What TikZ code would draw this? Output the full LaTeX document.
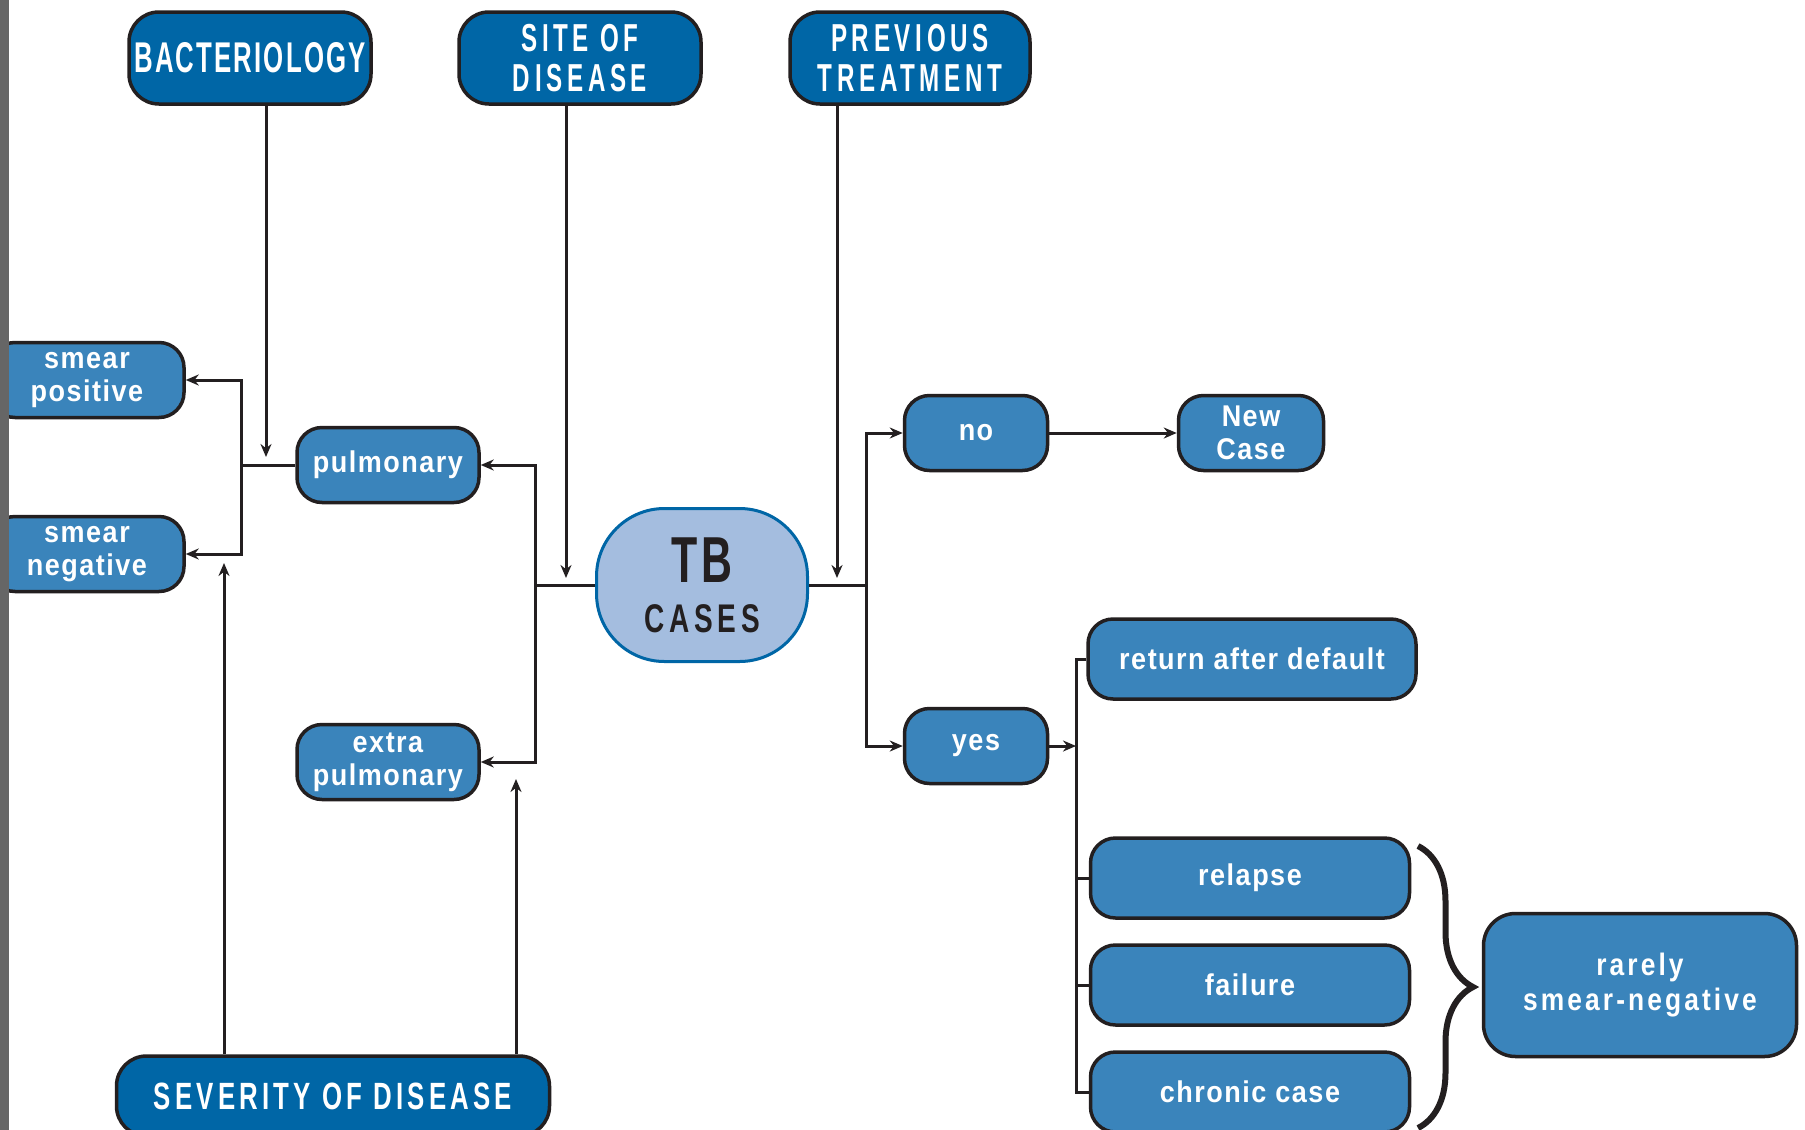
\documentclass[tikz,border=0pt]{standalone}
\usepackage{fontspec}
\usetikzlibrary{arrows.meta,decorations.pathreplacing}
\definecolor{ink}{HTML}{231F20}
\definecolor{dblue}{HTML}{0066A6}
\definecolor{mblue}{HTML}{3A84BB}
\definecolor{lblue}{HTML}{A4BDDF}
\definecolor{barg}{HTML}{666666}
\newfontfamily\tcapfont{Liberation Sans}[FakeStretch=0.62,LetterSpace=12]
\newfontfamily\bcapfont{Liberation Sans}[FakeStretch=0.6,LetterSpace=5]
\newfontfamily\sevfont{Liberation Sans}[FakeStretch=0.68,LetterSpace=11]
\newfontfamily\lowfont{Liberation Sans}[FakeStretch=0.9,LetterSpace=5]
\newfontfamily\lowsfont{Liberation Sans}[FakeStretch=0.85,LetterSpace=10]
\newfontfamily\tbbigfont{Liberation Sans}[FakeStretch=0.66,LetterSpace=6]
\newfontfamily\tbsmallfont{Liberation Sans}[FakeStretch=0.7,LetterSpace=12]
\begin{document}
\begin{tikzpicture}[x=1pt,y=-1pt,
  base/.style={rectangle,draw=ink,line width=3.5pt,align=center,inner sep=0pt,text=white},
  topbox/.style={base,fill=dblue,minimum width=242pt,minimum height=92pt,rounded corners=30pt,
    font=\tcapfont\bfseries\fontsize{39}{40}\selectfont},
  midbox/.style={base,fill=mblue,minimum width=182pt,minimum height=75pt,rounded corners=25pt,
    font=\lowfont\bfseries\fontsize{30}{33}\selectfont},
  tbbox/.style={rectangle,draw=dblue,line width=3pt,fill=lblue,text=ink,align=center,inner sep=0pt,
    minimum width=211pt,minimum height=153pt,rounded corners=68pt,font=\fontsize{40}{50}\selectfont},
  conn/.style={draw=ink,line width=3pt},
  arr/.style={conn,-{Stealth[length=13pt,width=11pt]}},
  bracestyle/.style={draw=ink,line width=6pt,decorate,decoration={brace,amplitude=55pt}}
]
\clip (0,0) rectangle (1805,1130);
\fill[white] (0,0) rectangle (1805,1130);

% nodes
\node[topbox,font=\bcapfont\bfseries\fontsize{43}{43}\selectfont] (bac) at (250,58) {BACTERIOLOGY};
\node[topbox] (site) at (580,58) {SITE OF\\DISEASE};
\node[topbox,minimum width=240pt] (prev) at (910,58) {PREVIOUS\\TREATMENT};

\node[midbox,minimum width=194pt] (sp) at (87,380) {smear\\positive};
\node[midbox,minimum width=194pt] (sn) at (87,554) {smear\\negative};
\node[midbox] (pul) at (388,465) {pulmonary};
\node[midbox] (xp) at (388,762) {extra\\pulmonary};

\node[tbbox] (tb) at (702,585) {{\tbbigfont\bfseries\fontsize{65}{60}\selectfont TB}\\{\tbsmallfont\bfseries\fontsize{40}{40}\selectfont CASES}};

\node[midbox,minimum width=143pt] (no) at (976,433) {no};
\node[midbox,minimum width=145pt] (new) at (1251,433) {New\\Case};
\node[midbox,minimum width=143pt] (yes) at (976,746) {yes};

\node[midbox,minimum width=328pt,minimum height=80pt] (ret) at (1252,659) {return after default};
\node[midbox,minimum width=319pt,minimum height=80pt] (rel) at (1250,878) {relapse};
\node[midbox,minimum width=319pt,minimum height=80pt] (fail) at (1250,985) {failure};
\node[midbox,minimum width=319pt,minimum height=80pt] (chr) at (1250,1092) {chronic case};

\node[midbox,minimum width=313pt,minimum height=143pt,rounded corners=32pt,
  font=\lowsfont\bfseries\fontsize{31}{35}\selectfont] (rare) at (1640,985) {rarely\\smear-negative};

\node[topbox,minimum width=433pt,minimum height=80pt,
  font=\sevfont\bfseries\fontsize{38}{38}\selectfont] (sev) at (333,1096) {SEVERITY OF DISEASE};

% coordinates
\coordinate (b1) at (266,457);
\coordinate (jl) at (241,465);
\coordinate (s1) at (224,563);
\coordinate (s2) at (516,779);
\coordinate (jt) at (535,585);
\coordinate (s3) at (566,578);
\coordinate (s4) at (837,578);
\coordinate (jr) at (866,585);
\coordinate (jy) at (1076,746);

% connectors left
\draw[arr] (b1 |- bac.south) -- (b1);
\draw[conn] (pul.west) -- (jl);
\draw[arr] (jl) |- (sp.east);
\draw[arr] (jl) |- (sn.east);
\draw[arr] (s1 |- sev.north) -- (s1);
\draw[arr] (s2 |- sev.north) -- (s2);

% connectors centre
\draw[conn] (tb.west) -- (jt);
\draw[arr] (jt) |- (pul.east);
\draw[arr] (jt) |- (xp.east);
\draw[arr] (s3 |- site.south) -- (s3);
\draw[arr] (s4 |- prev.south) -- (s4);

% connectors right
\draw[conn] (tb.east) -- (jr);
\draw[arr] (jr) |- (no.west);
\draw[arr] (jr) |- (yes.west);
\draw[arr] (no) -- (new);
\draw[arr] (yes.east) -- (jy);
\draw[conn] (ret.west) -| (jy |- chr.west) -- (chr.west);
\draw[conn] (rel.west) -- (rel.west -| jy);
\draw[conn] (fail.west) -- (fail.west -| jy);

% brace
\draw[bracestyle] (1418,846) -- (1418,1128);

% left bar
\fill[barg] (0,0) rectangle (9,1130);
\end{tikzpicture}
\end{document}
